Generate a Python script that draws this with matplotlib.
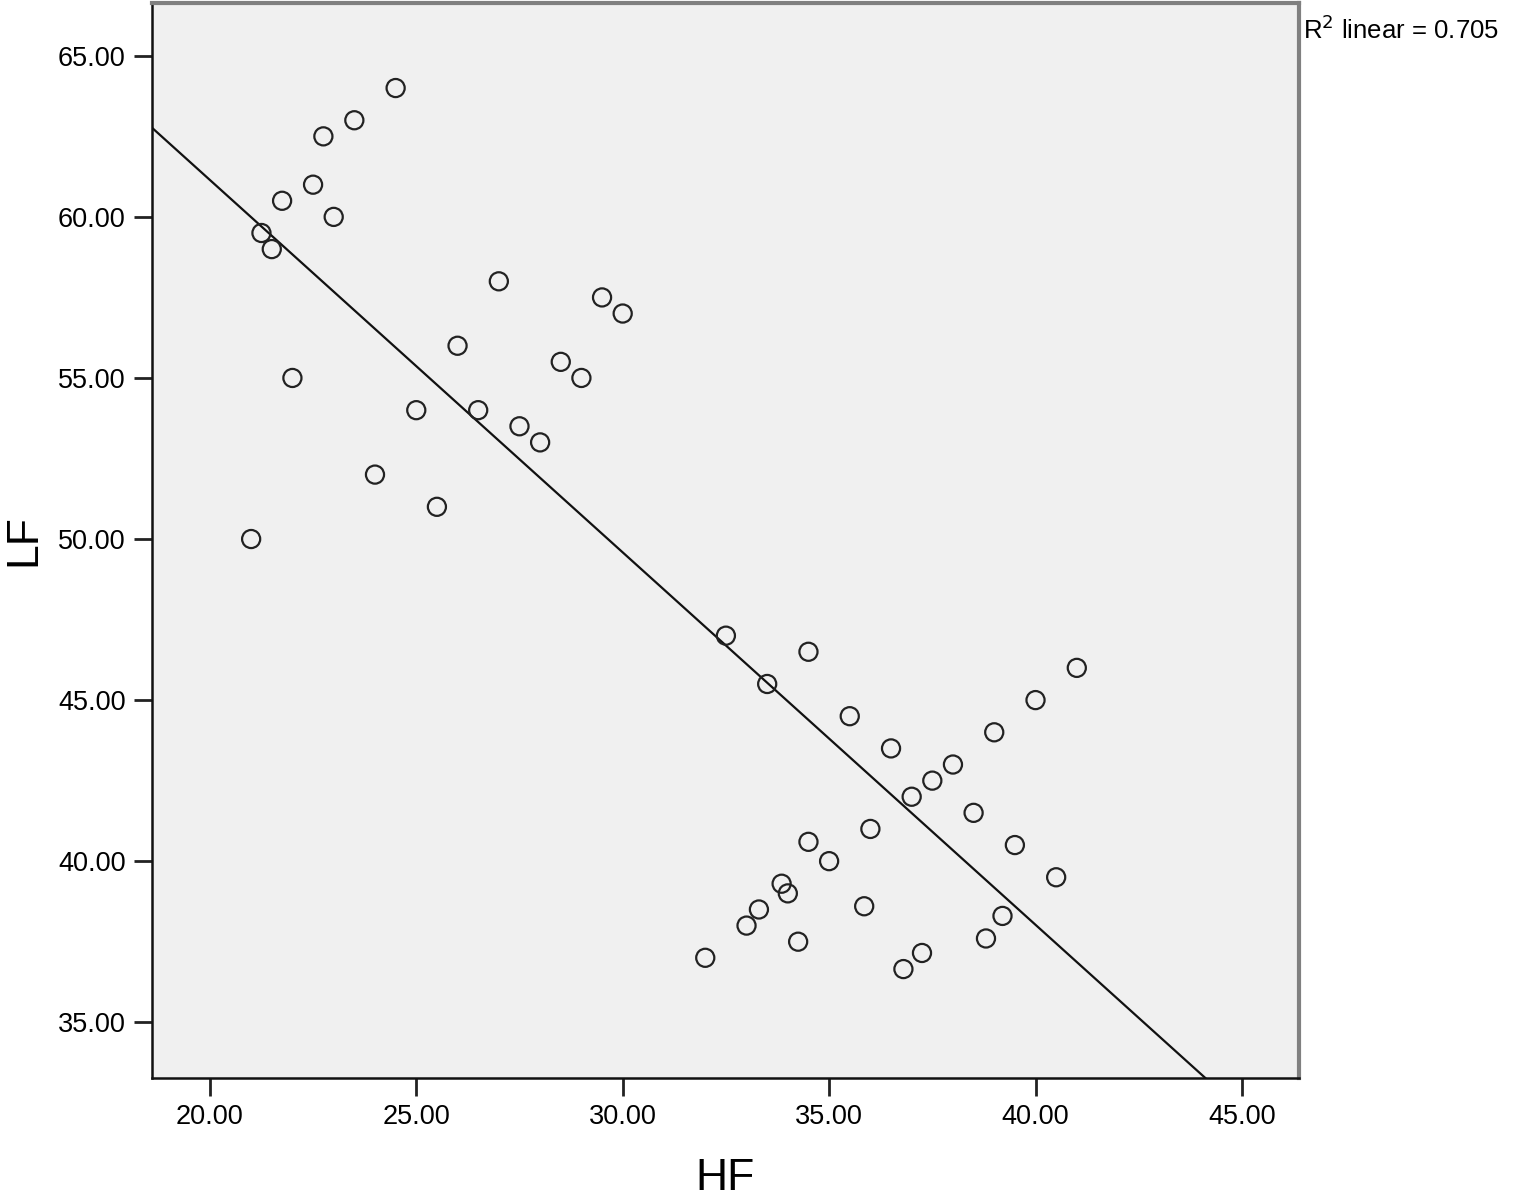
import numpy as np
import matplotlib
matplotlib.use('Agg')
import matplotlib.pyplot as plt

plt.rcParams['font.family'] = ['Liberation Sans', 'DejaVu Sans']

# HF / LF values
hf = [24.5, 23.5, 22.75, 22.5, 21.75, 23.0, 21.25, 21.5, 22.0, 21.0,
      24.0, 25.0, 25.5, 26.0, 26.5, 27.0, 27.5, 28.0, 28.5, 29.0,
      29.5, 30.0, 32.5, 34.5, 33.5, 35.5, 36.5, 38.0, 37.5, 37.0,
      39.0, 40.0, 41.0, 38.5, 39.5, 40.5, 36.0, 34.5, 35.0, 33.85,
      34.0, 33.3, 33.0, 35.85, 34.25, 32.0, 39.2, 38.8, 37.25, 36.8]
lf = [64.0, 63.0, 62.5, 61.0, 60.5, 60.0, 59.5, 59.0, 55.0, 50.0,
      52.0, 54.0, 51.0, 56.0, 54.0, 58.0, 53.5, 53.0, 55.5, 55.0,
      57.5, 57.0, 47.0, 46.5, 45.5, 44.5, 43.5, 43.0, 42.5, 42.0,
      44.0, 45.0, 46.0, 41.5, 40.5, 39.5, 41.0, 40.6, 40.0, 39.3,
      39.0, 38.5, 38.0, 38.6, 37.5, 37.0, 38.3, 37.6, 37.15, 36.65]

x_ticks = [20, 25, 30, 35, 40, 45]
y_ticks = [35, 40, 45, 50, 55, 60, 65]
r2_text = 'R$^2$ linear = 0.705'

hf = np.array(hf)
lf = np.array(lf)

fig = plt.figure(figsize=(15.13, 11.98), dpi=100)
ax = fig.add_axes([0.1005, 0.1002, 0.758, 0.8973])
ax.set_facecolor('#f0f0f0')

# fit line
slope, intercept = np.polyfit(hf, lf, 1)
xlim = (18.6, 46.38)
ylim = (33.27, 66.64)
xx = np.array(xlim)
ax.plot(xx, slope * xx + intercept, color='#111111', lw=1.6, zorder=2)

ax.scatter(hf, lf, s=170, facecolors='none', edgecolors='#222222',
           linewidths=1.6, zorder=3)

ax.set_xlim(xlim)
ax.set_ylim(ylim)
ax.set_xticks(x_ticks)
ax.set_yticks(y_ticks)
ax.set_xticklabels(['%.2f' % v for v in x_ticks])
ax.set_yticklabels(['%.2f' % v for v in y_ticks])
ax.tick_params(direction='out', length=13, width=2, labelsize=19.5,
               pad=6, color='#222222')

for s in ['left', 'bottom']:
    ax.spines[s].set_color('#111111')
    ax.spines[s].set_linewidth(1.8)
for s in ['top', 'right']:
    ax.spines[s].set_color('#808080')
    ax.spines[s].set_linewidth(3)

ax.set_xlabel('HF', fontsize=32, labelpad=20)
ax.set_ylabel('LF', fontsize=32, labelpad=10)

fig.text(0.861, 0.987, r2_text, fontsize=18.5, ha='left', va='top')

fig.savefig('out.png', dpi=100)
